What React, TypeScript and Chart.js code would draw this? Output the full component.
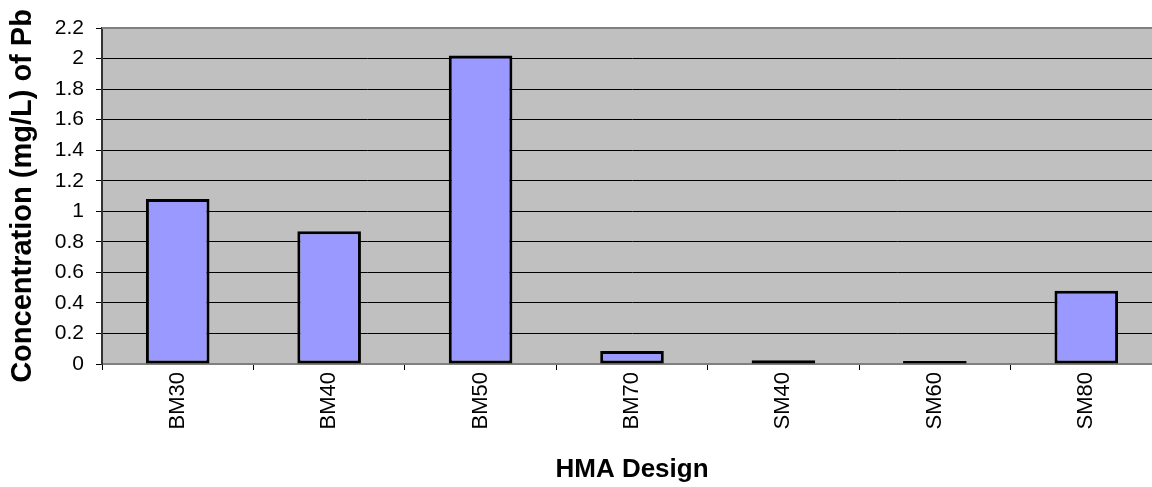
import React, { useEffect, useRef } from "react";
import { Chart, registerables } from "chart.js";

Chart.register(...registerables);

const categories = ["BM30", "BM40", "BM50", "BM70", "SM40", "SM60", "SM80"];
const pbValues = [1.08, 0.87, 2.02, 0.085, 0.025, 0.02, 0.48];
const yMin = 0;
const yMax = 2.2;
const yStep = 0.2;
const yTitle = "Concentration (mg/L) of Pb";
const xTitle = "HMA Design";

const plotBackground = {
  id: "plotBackground",
  beforeDraw(chart: any) {
    const { ctx, chartArea } = chart;
    ctx.save();
    ctx.fillStyle = "#C0C0C0";
    ctx.fillRect(chartArea.left, chartArea.top, chartArea.right - chartArea.left, chartArea.bottom - chartArea.top);
    ctx.restore();
  },
  afterDraw(chart: any) {
    const { ctx, chartArea } = chart;
    ctx.save();
    ctx.strokeStyle = "#808080";
    ctx.lineWidth = 2;
    ctx.beginPath();
    ctx.moveTo(chartArea.left, chartArea.top);
    ctx.lineTo(chartArea.right, chartArea.top);
    ctx.lineTo(chartArea.right, chartArea.bottom);
    ctx.stroke();
    ctx.restore();
  },
};

const FONT = "'Liberation Sans', Arial, sans-serif";

export default function App() {
  const ref = useRef<HTMLCanvasElement | null>(null);
  useEffect(() => {
    if (!ref.current) return;
    const chart = new Chart(ref.current, {
      type: "bar",
      data: {
        labels: categories,
        datasets: [
          {
            data: pbValues,
            backgroundColor: "#9999FF",
            borderColor: "#000000",
            borderWidth: 3,
            borderSkipped: false,
            barPercentage: 0.42,
            categoryPercentage: 1,
          },
        ],
      },
      options: {
        animation: false,
        responsive: false,
        maintainAspectRatio: false,
        layout: { padding: { top: 28, left: 0, right: 0, bottom: 0 } },
        plugins: { legend: { display: false }, tooltip: { enabled: false } },
        scales: {
          x: {
            offset: true,
            grid: { offset: true, drawOnChartArea: false, drawTicks: true, tickLength: 6, color: "#000000", lineWidth: 1 },
            border: { display: true, color: "#808080", width: 2 },
            ticks: {
              minRotation: 90,
              maxRotation: 90,
              padding: 2,
              color: "#000000",
              font: { family: FONT, size: 22 },
            },
            title: {
              display: true,
              text: xTitle,
              color: "#000000",
              padding: { top: 0, bottom: 2 },
              font: { family: FONT, size: 26, weight: "bold" },
            },
            afterFit(scale: any) {
              scale.height = 123;
            },
          },
          y: {
            min: yMin,
            max: yMax,
            ticks: {
              stepSize: yStep,
              padding: 12,
              color: "#000000",
              font: { family: FONT, size: 21 },
              callback: (v: any) => String(Number(Number(v).toFixed(1))),
            },
            grid: { color: "#000000", lineWidth: 1, tickLength: 6, drawTicks: true },
            border: { display: true, color: "#333333", width: 2 },
            title: {
              display: true,
              text: yTitle,
              color: "#000000",
              padding: { top: 6, bottom: 0 },
              font: { family: FONT, size: 29, weight: "bold" },
            },
            afterFit(scale: any) {
              scale.width = 102;
            },
          },
        },
      },
      plugins: [plotBackground],
    });
    return () => chart.destroy();
  }, []);
  return (
    <div style={{ position: "fixed", left: 0, top: 0, width: 1152, height: 487, overflow: "hidden", background: "#fff" }}>
      <canvas ref={ref} width={1162} height={487} style={{ width: 1162, height: 487, display: "block" }} />
    </div>
  );
}
